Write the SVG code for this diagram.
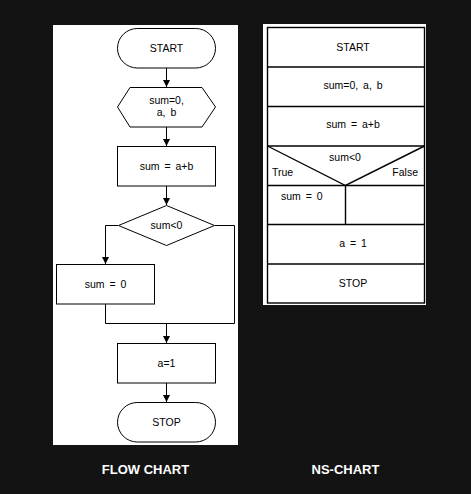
<svg xmlns="http://www.w3.org/2000/svg" width="471" height="494" viewBox="0 0 471 494">
<style>
.bg{fill:#131313}
.panel{fill:#ffffff}
.sh{fill:#ffffff;stroke:#000000;stroke-width:1}
.ln{fill:none;stroke:#000000;stroke-width:1}
.ns{fill:none;stroke:#000000;stroke-width:1.4}
.t{font-family:"Liberation Sans",Arial,sans-serif;font-size:10.5px;fill:#000000;word-spacing:2px}
.c{text-anchor:middle}
.cap{font-family:"Liberation Sans",Arial,sans-serif;font-size:13px;font-weight:bold;fill:#ffffff;text-anchor:middle}
</style>
<defs>
<marker id="ah" viewBox="0 0 8 8" refX="8" refY="4" markerWidth="8" markerHeight="7" markerUnits="userSpaceOnUse" orient="auto">
<path d="M0,0 L8,4 L0,8 Z" fill="#000000"/>
</marker>
</defs>
<rect class="bg" x="0" y="0" width="471" height="494"/>
<rect class="panel" x="53" y="25" width="185" height="420"/>
<rect class="panel" x="263" y="24" width="163" height="281"/>

<g id="connectors">
<line class="ln" x1="166.5" y1="68" x2="166.5" y2="87" marker-end="url(#ah)"/>
<line class="ln" x1="166.5" y1="127" x2="166.5" y2="146" marker-end="url(#ah)"/>
<line class="ln" x1="166.5" y1="186" x2="166.5" y2="205" marker-end="url(#ah)"/>
<polyline class="ln" points="118,225.5 105.5,225.5 105.5,264" marker-end="url(#ah)"/>
<polyline class="ln" points="215,225.5 234.5,225.5 234.5,323.5 105.5,323.5 105.5,304"/>
<line class="ln" x1="166.5" y1="323.5" x2="166.5" y2="343" marker-end="url(#ah)"/>
<line class="ln" x1="166.5" y1="383" x2="166.5" y2="402" marker-end="url(#ah)"/>
</g>

<g id="fc-start">
<rect class="sh" x="117.5" y="28.5" width="98" height="39.5" rx="19.75"/>
<text class="t c" x="166.5" y="52">START</text>
</g>
<g id="fc-input">
<polygon class="sh" points="130,87.5 202,87.5 215.5,107 202,127 130,127 117.5,107"/>
<text class="t c" x="166.5" y="104">sum=0,</text>
<text class="t c" x="166.5" y="116">a, b</text>
</g>
<g id="fc-sum">
<rect class="sh" x="117.5" y="146.5" width="98" height="39.5"/>
<text class="t c" x="166.5" y="170">sum = a+b</text>
</g>
<g id="fc-cond">
<polygon class="sh" points="166.5,205.5 214.5,225.5 166.5,245.5 118.5,225.5"/>
<text class="t c" x="166.5" y="229">sum&lt;0</text>
</g>
<g id="fc-zero">
<rect class="sh" x="56.5" y="264.5" width="98" height="39.5"/>
<text class="t c" x="105.5" y="288">sum = 0</text>
</g>
<g id="fc-a">
<rect class="sh" x="117.5" y="343.5" width="98" height="39.5"/>
<text class="t c" x="166.5" y="367">a=1</text>
</g>
<g id="fc-stop">
<rect class="sh" x="117.5" y="402.5" width="98" height="39.5" rx="19.75"/>
<text class="t c" x="166.5" y="426">STOP</text>
</g>

<g id="ns-chart">
<rect class="ns" x="267.5" y="27.5" width="157" height="275.5"/>
<line class="ns" x1="267.5" y1="67" x2="424.5" y2="67"/>
<line class="ns" x1="267.5" y1="106.5" x2="424.5" y2="106.5"/>
<line class="ns" x1="267.5" y1="146" x2="424.5" y2="146"/>
<line class="ns" x1="267.5" y1="185.5" x2="424.5" y2="185.5"/>
<line class="ns" x1="267.5" y1="224.5" x2="424.5" y2="224.5"/>
<line class="ns" x1="267.5" y1="264" x2="424.5" y2="264"/>
<polyline class="ns" points="267.5,146 345.5,185.5 424.5,146"/>
<line class="ns" x1="345.5" y1="185.5" x2="345.5" y2="224.5"/>
</g>
<g id="ns-start"><text class="t c" x="353" y="51">START</text></g>
<g id="ns-input"><text class="t c" x="353" y="89">sum=0, a, b</text></g>
<g id="ns-sum"><text class="t c" x="353" y="128">sum = a+b</text></g>
<g id="ns-cond">
<text class="t c" x="345" y="161">sum&lt;0</text>
<text class="t" x="272" y="176">True</text>
<text class="t" x="418" y="176" text-anchor="end">False</text>
</g>
<g id="ns-zero"><text class="t" x="281" y="200">sum = 0</text></g>
<g id="ns-a"><text class="t c" x="353" y="247">a = 1</text></g>
<g id="ns-stop"><text class="t c" x="353" y="287">STOP</text></g>

<text class="cap" x="145.5" y="474">FLOW CHART</text>
<text class="cap" x="345.5" y="474">NS-CHART</text>
</svg>
